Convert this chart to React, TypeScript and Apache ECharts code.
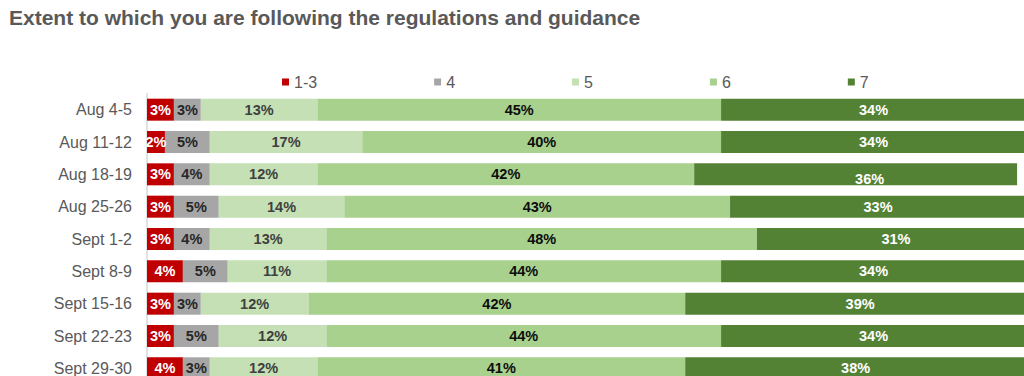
import React, { useEffect, useRef } from "react";
import * as echarts from "echarts";

// Survey waves (top to bottom)
const categories = [
  "Aug 4-5",
  "Aug 11-12",
  "Aug 18-19",
  "Aug 25-26",
  "Sept 1-2",
  "Sept 8-9",
  "Sept 15-16",
  "Sept 22-23",
  "Sept 29-30",
];

// Share of respondents (%) by rating on the 1-7 scale
const score1to3 = [3, 2, 3, 3, 3, 4, 3, 3, 4];
const score4 = [3, 5, 4, 5, 4, 5, 3, 5, 3];
const score5 = [13, 17, 12, 14, 13, 11, 12, 12, 12];
const score6 = [45, 40, 42, 43, 48, 44, 42, 44, 41];
const score7 = [34, 34, 36, 33, 31, 34, 39, 34, 38];

const seriesNames = ["1-3", "4", "5", "6", "7"];
const seriesColors = ["#C00000", "#A6A6A6", "#C5E0B4", "#A9D18E", "#548235"];
const labelColors = ["#FFFFFF", "#262626", "#404040", "#0D0D0D", "#FFFFFF"];

const FONT = "'Liberation Sans', Arial, sans-serif";

export default function App() {
  const ref = useRef<HTMLDivElement>(null);

  useEffect(() => {
    if (!ref.current) return;
    const chart = echarts.init(ref.current, undefined, { renderer: "svg" });

    const columns = [score1to3, score4, score5, score6, score7];

    const series = columns.map((values, i) => ({
      name: seriesNames[i],
      type: "bar" as const,
      stack: "total",
      barWidth: 22,
      clip: false,
      itemStyle: { color: seriesColors[i] },
      label: {
        show: true,
        position: "inside" as const,
        formatter: "{c}%",
        color: labelColors[i],
        fontFamily: FONT,
        fontWeight: "bold" as const,
        fontSize: 14.5,
      },
      data: values.map((v, j) =>
        // the Aug 18-19 label for "7" sits slightly off-centre
        i === 4 && j === 2 ? { value: v, label: { offset: [14, 5] } } : v
      ),
    }));

    chart.setOption({
      animation: false,
      title: {
        text: "Extent to which you are following the regulations and guidance",
        left: 4,
        top: 2,
        textStyle: {
          fontFamily: FONT,
          fontWeight: "bold",
          fontSize: 21,
          color: "#595959",
        },
      },
      legend: {
        data: seriesNames,
        left: 277,
        top: 69,
        icon: "rect",
        itemWidth: 7,
        itemHeight: 7,
        itemGap: 117,
        selectedMode: false,
        textStyle: { fontFamily: FONT, fontSize: 16, color: "#595959" },
      },
      grid: {
        left: 147,
        top: 93.5,
        width: 897,
        height: 291,
        containLabel: false,
        outerBoundsMode: "none",
      },
      xAxis: {
        type: "value",
        min: 0,
        max: 100,
        show: false,
      },
      yAxis: {
        type: "category",
        inverse: true,
        data: categories,
        axisLine: { show: true, lineStyle: { color: "#D9D9D9", width: 1.5 } },
        axisTick: { show: false },
        axisLabel: {
          margin: 15,
          fontFamily: FONT,
          fontSize: 16,
          color: "#595959",
        },
      },
      series,
    });

    return () => chart.dispose();
  }, []);

  return (
    <div
      ref={ref}
      style={{ position: "fixed", left: 0, top: 0, width: 1024, height: 376, background: "#FFFFFF" }}
    />
  );
}
